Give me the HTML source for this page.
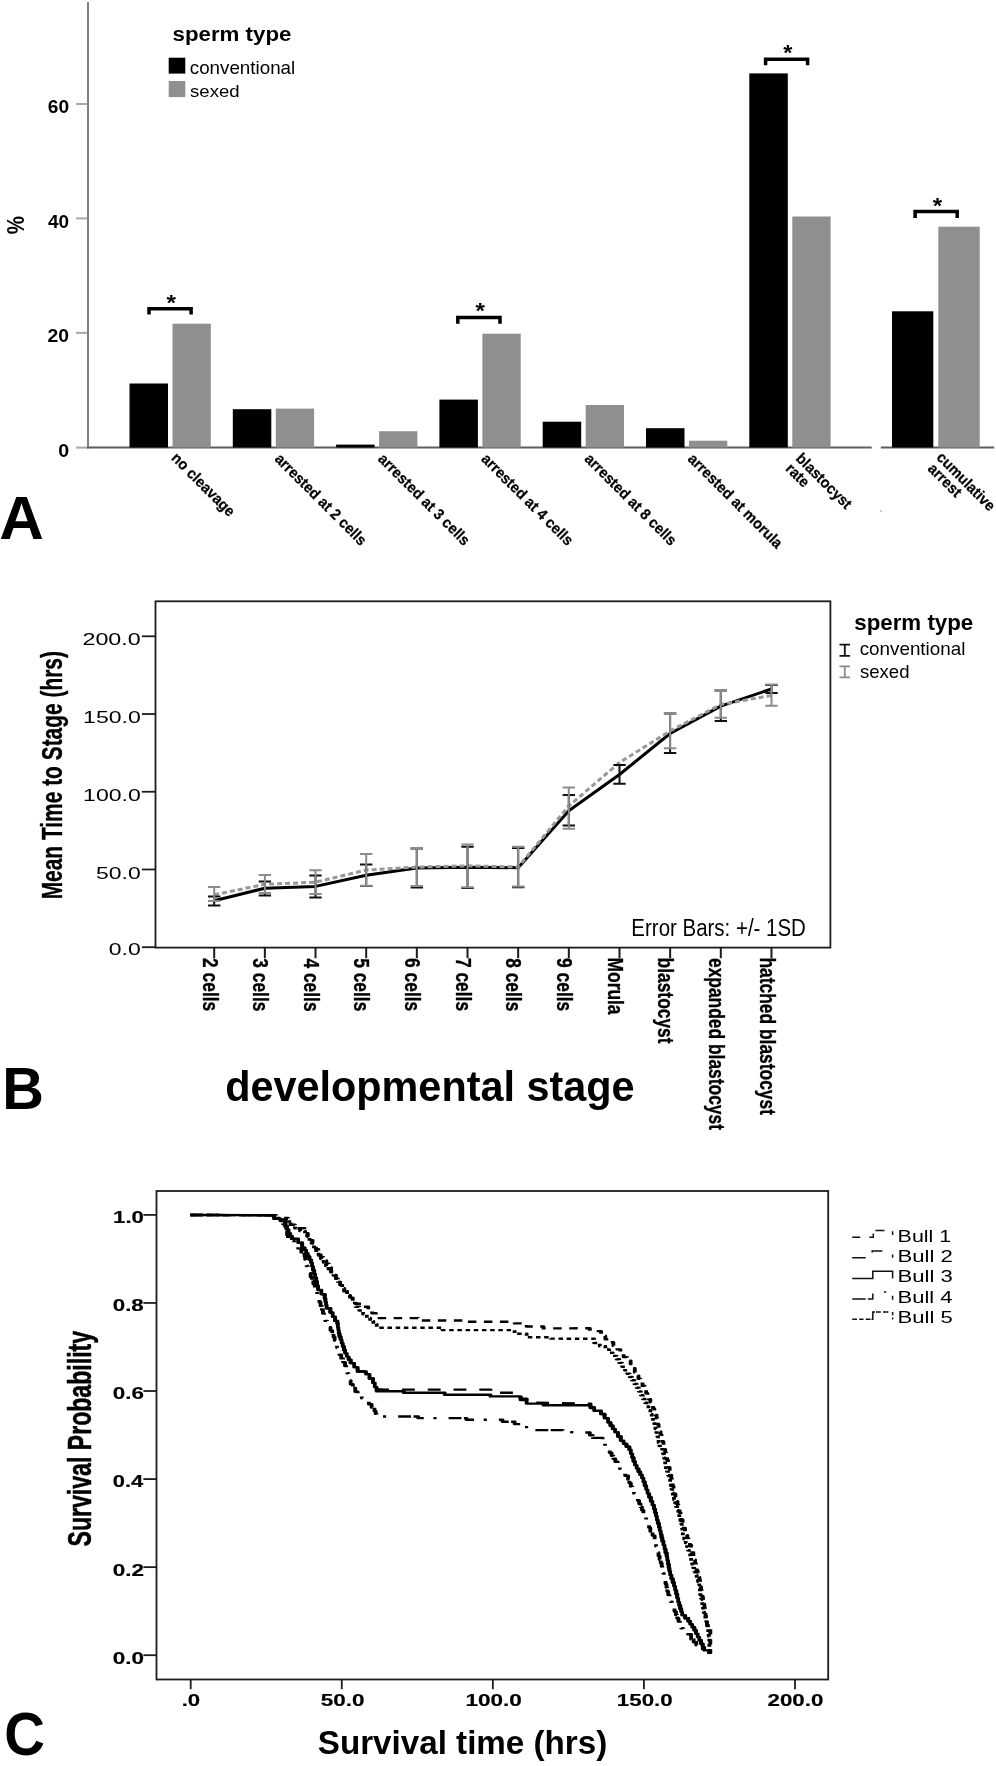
<!DOCTYPE html>
<html><head><meta charset="utf-8"><title>Figure</title>
<style>
html,body{margin:0;padding:0;background:#fff;}
body{width:996px;height:1766px;overflow:hidden;}
svg{display:block;filter:grayscale(1);}
text{font-family:"Liberation Sans", sans-serif;font-size:100px;}
</style></head>
<body>
<svg width="996" height="1766" viewBox="0 0 996 1766">
<rect x="0" y="0" width="996" height="1766" fill="#fff"/>
<line x1="88.00" y1="2.00" x2="88.00" y2="448.50" stroke="#808080" stroke-width="2.00" />
<line x1="76.00" y1="104.00" x2="87.00" y2="104.00" stroke="#a8a8a8" stroke-width="2.00" />
<line x1="76.00" y1="218.40" x2="87.00" y2="218.40" stroke="#a8a8a8" stroke-width="2.00" />
<line x1="76.00" y1="332.90" x2="87.00" y2="332.90" stroke="#a8a8a8" stroke-width="2.00" />
<line x1="76.00" y1="447.60" x2="87.00" y2="447.60" stroke="#a8a8a8" stroke-width="2.00" />
<line x1="87.00" y1="447.50" x2="871.70" y2="447.50" stroke="#5e5e5e" stroke-width="2.00" />
<line x1="880.80" y1="447.50" x2="994.20" y2="447.50" stroke="#5e5e5e" stroke-width="2.00" />
<text transform="matrix(0.19130,0.00000,0.00000,0.18873,47.83043,113.41127)" font-weight="bold" fill="#000">60</text>
<text transform="matrix(0.18957,0.00000,0.00000,0.18873,48.01564,227.61127)" font-weight="bold" fill="#000">40</text>
<text transform="matrix(0.19324,0.00000,0.00000,0.18873,47.62367,342.01127)" font-weight="bold" fill="#000">20</text>
<text transform="matrix(0.19579,0.00000,0.00000,0.19014,58.21684,456.60986)" font-weight="bold" fill="#000">0</text>
<text transform="matrix(0.00000,-0.20476,0.24823,0.00000,24.25177,234.21190)" font-weight="bold" fill="#000">%</text>
<text transform="matrix(0.22298,0.00000,0.00000,0.20925,172.51956,40.90578)" font-weight="bold" fill="#000">sperm type</text>
<rect x="168.70" y="57.70" width="16.60" height="15.90" fill="#000"/>
<text transform="matrix(0.18783,0.00000,0.00000,0.18095,189.75477,73.81905)" font-weight="normal" fill="#000">conventional</text>
<rect x="168.70" y="81.00" width="16.60" height="16.10" fill="#8f8f8f"/>
<text transform="matrix(0.18560,0.00000,0.00000,0.17279,190.04319,97.32721)" font-weight="normal" fill="#000">sexed</text>
<rect x="129.50" y="383.50" width="38.50" height="64.00" fill="#000"/>
<rect x="172.50" y="323.70" width="38.30" height="123.80" fill="#8f8f8f"/>
<rect x="232.80" y="409.20" width="38.50" height="38.30" fill="#000"/>
<rect x="275.80" y="408.60" width="38.30" height="38.90" fill="#8f8f8f"/>
<rect x="336.10" y="444.60" width="38.50" height="2.90" fill="#000"/>
<rect x="379.10" y="431.20" width="38.30" height="16.30" fill="#8f8f8f"/>
<rect x="439.40" y="399.60" width="38.50" height="47.90" fill="#000"/>
<rect x="482.40" y="333.70" width="38.30" height="113.80" fill="#8f8f8f"/>
<rect x="542.70" y="421.70" width="38.50" height="25.80" fill="#000"/>
<rect x="585.70" y="405.00" width="38.30" height="42.50" fill="#8f8f8f"/>
<rect x="646.00" y="428.20" width="38.50" height="19.30" fill="#000"/>
<rect x="689.00" y="440.70" width="38.30" height="6.80" fill="#8f8f8f"/>
<rect x="749.30" y="73.40" width="38.50" height="374.10" fill="#000"/>
<rect x="792.30" y="216.50" width="38.30" height="231.00" fill="#8f8f8f"/>
<rect x="892.00" y="311.30" width="41.30" height="136.20" fill="#000"/>
<rect x="938.30" y="226.70" width="41.40" height="220.80" fill="#8f8f8f"/>
<path d="M149.0,314.6 V308.7 H191.1 V314.6" fill="none" stroke="#000" stroke-width="3.5" stroke-linejoin="miter"/>
<text transform="matrix(0.24474,0.00000,0.00000,0.22973,166.37763,309.85135)" font-weight="bold" fill="#000">*</text>
<path d="M457.8,323.8 V317.6 H500.0 V323.8" fill="none" stroke="#000" stroke-width="3.5" stroke-linejoin="miter"/>
<text transform="matrix(0.24211,0.00000,0.00000,0.22162,475.47895,318.39189)" font-weight="bold" fill="#000">*</text>
<path d="M765.6,65.2 V59.2 H807.6 V65.2" fill="none" stroke="#000" stroke-width="3.5" stroke-linejoin="miter"/>
<text transform="matrix(0.23421,0.00000,0.00000,0.22973,783.18289,60.25135)" font-weight="bold" fill="#000">*</text>
<path d="M915.1,217.9 V211.6 H957.2 V217.9" fill="none" stroke="#000" stroke-width="3.5" stroke-linejoin="miter"/>
<text transform="matrix(0.24211,0.00000,0.00000,0.22162,932.67895,212.69189)" font-weight="bold" fill="#000">*</text>
<text transform="matrix(0.10253,0.10253,-0.10748,0.10748,170.40000,458.80000)" font-weight="bold" fill="#000" stroke="#000" stroke-width="1.60" stroke-linejoin="round">no cleavage</text>
<text transform="matrix(0.10253,0.10253,-0.10748,0.10748,273.90000,459.80000)" font-weight="bold" fill="#000" stroke="#000" stroke-width="1.60" stroke-linejoin="round">arrested at 2 cells</text>
<text transform="matrix(0.10253,0.10253,-0.10748,0.10748,377.20000,459.80000)" font-weight="bold" fill="#000" stroke="#000" stroke-width="1.60" stroke-linejoin="round">arrested at 3 cells</text>
<text transform="matrix(0.10253,0.10253,-0.10748,0.10748,480.50000,459.80000)" font-weight="bold" fill="#000" stroke="#000" stroke-width="1.60" stroke-linejoin="round">arrested at 4 cells</text>
<text transform="matrix(0.10253,0.10253,-0.10748,0.10748,583.80000,459.80000)" font-weight="bold" fill="#000" stroke="#000" stroke-width="1.60" stroke-linejoin="round">arrested at 8 cells</text>
<text transform="matrix(0.10253,0.10253,-0.10748,0.10748,687.10000,459.80000)" font-weight="bold" fill="#000" stroke="#000" stroke-width="1.60" stroke-linejoin="round">arrested at morula</text>
<text transform="matrix(0.10253,0.10253,-0.10748,0.10748,795.10000,459.30000)" font-weight="bold" fill="#000" stroke="#000" stroke-width="1.60" stroke-linejoin="round">blastocyst</text>
<text transform="matrix(0.10253,0.10253,-0.10748,0.10748,784.70000,469.40000)" font-weight="bold" fill="#000" stroke="#000" stroke-width="1.60" stroke-linejoin="round">rate</text>
<text transform="matrix(0.10253,0.10253,-0.10748,0.10748,935.70000,458.30000)" font-weight="bold" fill="#000" stroke="#000" stroke-width="1.60" stroke-linejoin="round">cumulative</text>
<text transform="matrix(0.10253,0.10253,-0.10748,0.10748,927.10000,469.60000)" font-weight="bold" fill="#000" stroke="#000" stroke-width="1.60" stroke-linejoin="round">arrest</text>
<text transform="matrix(0.61791,0.00000,0.00000,0.60580,-0.74478,538.80000)" font-weight="bold" fill="#000">A</text>
<rect x="880.00" y="510.00" width="2.00" height="2.00" fill="#c8c8c8"/>
<rect x="155.5" y="601.3" width="674.9" height="346.3" fill="none" stroke="#1c1c1c" stroke-width="1.8"/>
<line x1="141.90" y1="947.20" x2="155.50" y2="947.20" stroke="#1c1c1c" stroke-width="1.80" />
<line x1="141.90" y1="869.48" x2="155.50" y2="869.48" stroke="#1c1c1c" stroke-width="1.80" />
<line x1="141.90" y1="791.75" x2="155.50" y2="791.75" stroke="#1c1c1c" stroke-width="1.80" />
<line x1="141.90" y1="714.03" x2="155.50" y2="714.03" stroke="#1c1c1c" stroke-width="1.80" />
<line x1="141.90" y1="636.30" x2="155.50" y2="636.30" stroke="#1c1c1c" stroke-width="1.80" />
<text transform="matrix(0.23320,0.00000,0.00000,0.16338,82.43402,645.03662)" font-weight="normal" fill="#000">200.0</text>
<text transform="matrix(0.23061,0.00000,0.00000,0.16338,83.07044,723.13662)" font-weight="normal" fill="#000">150.0</text>
<text transform="matrix(0.23061,0.00000,0.00000,0.16620,83.07044,801.13380)" font-weight="normal" fill="#000">100.0</text>
<text transform="matrix(0.22949,0.00000,0.00000,0.16056,96.08204,878.63944)" font-weight="normal" fill="#000">50.0</text>
<text transform="matrix(0.22977,0.00000,0.00000,0.15775,108.78092,955.44225)" font-weight="normal" fill="#000">0.0</text>
<text transform="matrix(0.00000,-0.20918,0.28984,0.00000,62.41337,899.35969)" font-weight="bold" fill="#000" stroke="#000" stroke-width="1.20" stroke-linejoin="round">Mean Time to Stage (hrs)</text>
<line x1="214.20" y1="947.40" x2="214.20" y2="958.20" stroke="#1c1c1c" stroke-width="2.00" />
<line x1="264.86" y1="947.40" x2="264.86" y2="958.20" stroke="#1c1c1c" stroke-width="2.00" />
<line x1="315.52" y1="947.40" x2="315.52" y2="958.20" stroke="#1c1c1c" stroke-width="2.00" />
<line x1="366.18" y1="947.40" x2="366.18" y2="958.20" stroke="#1c1c1c" stroke-width="2.00" />
<line x1="416.84" y1="947.40" x2="416.84" y2="958.20" stroke="#1c1c1c" stroke-width="2.00" />
<line x1="467.50" y1="947.40" x2="467.50" y2="958.20" stroke="#1c1c1c" stroke-width="2.00" />
<line x1="518.16" y1="947.40" x2="518.16" y2="958.20" stroke="#1c1c1c" stroke-width="2.00" />
<line x1="568.82" y1="947.40" x2="568.82" y2="958.20" stroke="#1c1c1c" stroke-width="2.00" />
<line x1="619.48" y1="947.40" x2="619.48" y2="958.20" stroke="#1c1c1c" stroke-width="2.00" />
<line x1="670.14" y1="947.40" x2="670.14" y2="958.20" stroke="#1c1c1c" stroke-width="2.00" />
<line x1="720.80" y1="947.40" x2="720.80" y2="958.20" stroke="#1c1c1c" stroke-width="2.00" />
<line x1="771.46" y1="947.40" x2="771.46" y2="958.20" stroke="#1c1c1c" stroke-width="2.00" />
<text transform="matrix(0.00000,0.17386,-0.22069,0.00000,202.50000,958.09148)" font-weight="bold" fill="#000" stroke="#000" stroke-width="1.50" stroke-linejoin="round">2 cells</text>
<text transform="matrix(0.00000,0.17386,-0.22069,0.00000,253.16000,958.26534)" font-weight="bold" fill="#000" stroke="#000" stroke-width="1.50" stroke-linejoin="round">3 cells</text>
<text transform="matrix(0.00000,0.17386,-0.22069,0.00000,303.82000,958.43921)" font-weight="bold" fill="#000" stroke="#000" stroke-width="1.50" stroke-linejoin="round">4 cells</text>
<text transform="matrix(0.00000,0.17386,-0.22069,0.00000,354.48000,958.17841)" font-weight="bold" fill="#000" stroke="#000" stroke-width="1.50" stroke-linejoin="round">5 cells</text>
<text transform="matrix(0.00000,0.17386,-0.22069,0.00000,405.14000,958.09148)" font-weight="bold" fill="#000" stroke="#000" stroke-width="1.50" stroke-linejoin="round">6 cells</text>
<text transform="matrix(0.00000,0.17386,-0.22069,0.00000,455.80000,957.91762)" font-weight="bold" fill="#000" stroke="#000" stroke-width="1.50" stroke-linejoin="round">7 cells</text>
<text transform="matrix(0.00000,0.17386,-0.22069,0.00000,506.46000,958.17841)" font-weight="bold" fill="#000" stroke="#000" stroke-width="1.50" stroke-linejoin="round">8 cells</text>
<text transform="matrix(0.00000,0.17386,-0.22069,0.00000,557.12000,958.09148)" font-weight="bold" fill="#000" stroke="#000" stroke-width="1.50" stroke-linejoin="round">9 cells</text>
<text transform="matrix(0.00000,0.17386,-0.22069,0.00000,607.78000,957.56989)" font-weight="bold" fill="#000" stroke="#000" stroke-width="1.50" stroke-linejoin="round">Morula</text>
<text transform="matrix(0.00000,0.17386,-0.22069,0.00000,658.44000,957.56989)" font-weight="bold" fill="#000" stroke="#000" stroke-width="1.50" stroke-linejoin="round">blastocyst</text>
<text transform="matrix(0.00000,0.17386,-0.22069,0.00000,709.10000,958.00455)" font-weight="bold" fill="#000" stroke="#000" stroke-width="1.50" stroke-linejoin="round">expanded blastocyst</text>
<text transform="matrix(0.00000,0.17386,-0.22069,0.00000,759.76000,957.48296)" font-weight="bold" fill="#000" stroke="#000" stroke-width="1.50" stroke-linejoin="round">hatched blastocyst</text>
<text transform="matrix(0.20464,0.00000,0.00000,0.23946,631.36288,936.36054)" font-weight="normal" fill="#000">Error Bars: +/- 1SD</text>
<text transform="matrix(0.41406,0.00000,0.00000,0.42460,225.14376,1100.68342)" font-weight="bold" fill="#000">developmental stage</text>
<text transform="matrix(0.57705,0.00000,0.00000,0.60145,2.24918,1109.40000)" font-weight="bold" fill="#000">B</text>
<text transform="matrix(0.22317,0.00000,0.00000,0.21272,854.21890,629.73295)" font-weight="bold" fill="#000">sperm type</text>
<text transform="matrix(0.18837,0.00000,0.00000,0.18503,859.65232,654.71497)" font-weight="normal" fill="#000">conventional</text>
<text transform="matrix(0.18599,0.00000,0.00000,0.19048,859.94202,678.00952)" font-weight="normal" fill="#000">sexed</text>
<path d="M839.5,644.6 H850.0 M844.8,643.7 V656.7 M839.5,655.8 H850.0" stroke="#111" stroke-width="1.8" fill="none"/>
<path d="M839.5,666.4 H850.0 M844.8,665.5 V678.3 M839.5,677.4 H850.0" stroke="#8c8c8c" stroke-width="1.8" fill="none"/>
<path d="M214.2,900.7 L264.9,888.2 L315.5,886.4 L366.2,875.3 L416.8,868.1 L467.5,867.3 L518.2,867.7 L568.8,810.7 L619.5,774.5 L670.1,733.5 L720.8,706.1 L771.5,689.0" fill="none" stroke="#000" stroke-width="3.00" stroke-linejoin="round" />
<path d="M214.2,894.8 L264.9,884.3 L315.5,882.2 L366.2,870.0 L416.8,867.1 L467.5,865.8 L518.2,867.0 L568.8,806.0 L619.5,762.5 L670.1,731.0 L720.8,704.5 L771.5,695.4" fill="none" stroke="#999999" stroke-width="3.00" stroke-dasharray="5 3" stroke-linejoin="round" />
<path d="M208.0,896.5 H220.4 M214.2,896.5 V905.6 M208.0,905.6 H220.4" stroke="#111" stroke-width="2" fill="none"/>
<path d="M258.7,881.6 H271.1 M264.9,881.6 V895.5 M258.7,895.5 H271.1" stroke="#111" stroke-width="2" fill="none"/>
<path d="M309.3,875.4 H321.7 M315.5,875.4 V897.4 M309.3,897.4 H321.7" stroke="#111" stroke-width="2" fill="none"/>
<path d="M360.0,864.4 H372.4 M366.2,864.4 V886.0 M360.0,886.0 H372.4" stroke="#111" stroke-width="2" fill="none"/>
<path d="M410.6,848.5 H423.0 M416.8,848.5 V887.5 M410.6,887.5 H423.0" stroke="#111" stroke-width="2" fill="none"/>
<path d="M461.3,846.7 H473.7 M467.5,846.7 V888.0 M461.3,888.0 H473.7" stroke="#111" stroke-width="2" fill="none"/>
<path d="M512.0,848.0 H524.4 M518.2,848.0 V887.2 M512.0,887.2 H524.4" stroke="#111" stroke-width="2" fill="none"/>
<path d="M562.6,795.1 H575.0 M568.8,795.1 V825.6 M562.6,825.6 H575.0" stroke="#111" stroke-width="2" fill="none"/>
<path d="M613.3,764.9 H625.7 M619.5,764.9 V783.7 M613.3,783.7 H625.7" stroke="#111" stroke-width="2" fill="none"/>
<path d="M663.9,713.4 H676.3 M670.1,713.4 V753.0 M663.9,753.0 H676.3" stroke="#111" stroke-width="2" fill="none"/>
<path d="M714.6,690.6 H727.0 M720.8,690.6 V721.1 M714.6,721.1 H727.0" stroke="#111" stroke-width="2" fill="none"/>
<path d="M765.3,685.0 H777.7 M771.5,685.0 V693.0 M765.3,693.0 H777.7" stroke="#111" stroke-width="2" fill="none"/>
<path d="M208.0,887.1 H220.4 M214.2,887.1 V901.0 M208.0,901.0 H220.4" stroke="#8c8c8c" stroke-width="2" fill="none"/>
<path d="M258.7,875.1 H271.1 M264.9,875.1 V893.1 M258.7,893.1 H271.1" stroke="#8c8c8c" stroke-width="2" fill="none"/>
<path d="M309.3,870.2 H321.7 M315.5,870.2 V894.1 M309.3,894.1 H321.7" stroke="#8c8c8c" stroke-width="2" fill="none"/>
<path d="M360.0,854.0 H372.4 M366.2,854.0 V885.8 M360.0,885.8 H372.4" stroke="#8c8c8c" stroke-width="2" fill="none"/>
<path d="M410.6,848.0 H423.0 M416.8,848.0 V886.0 M410.6,886.0 H423.0" stroke="#8c8c8c" stroke-width="2" fill="none"/>
<path d="M461.3,844.4 H473.7 M467.5,844.4 V887.2 M461.3,887.2 H473.7" stroke="#8c8c8c" stroke-width="2" fill="none"/>
<path d="M512.0,846.7 H524.4 M518.2,846.7 V886.5 M512.0,886.5 H524.4" stroke="#8c8c8c" stroke-width="2" fill="none"/>
<path d="M562.6,787.6 H575.0 M568.8,787.6 V828.8 M562.6,828.8 H575.0" stroke="#8c8c8c" stroke-width="2" fill="none"/>
<path d="M663.9,713.4 H676.3 M670.1,713.4 V748.2 M663.9,748.2 H676.3" stroke="#8c8c8c" stroke-width="2" fill="none"/>
<path d="M714.6,690.6 H727.0 M720.8,690.6 V717.7 M714.6,717.7 H727.0" stroke="#8c8c8c" stroke-width="2" fill="none"/>
<path d="M765.3,684.5 H777.7 M771.5,684.5 V705.7 M765.3,705.7 H777.7" stroke="#8c8c8c" stroke-width="2" fill="none"/>
<rect x="156.5" y="1191" width="671.7" height="488.5" fill="none" stroke="#1c1c1c" stroke-width="1.8"/>
<line x1="143.40" y1="1655.20" x2="156.50" y2="1655.20" stroke="#1c1c1c" stroke-width="1.80" />
<line x1="143.40" y1="1567.14" x2="156.50" y2="1567.14" stroke="#1c1c1c" stroke-width="1.80" />
<line x1="143.40" y1="1479.08" x2="156.50" y2="1479.08" stroke="#1c1c1c" stroke-width="1.80" />
<line x1="143.40" y1="1391.02" x2="156.50" y2="1391.02" stroke="#1c1c1c" stroke-width="1.80" />
<line x1="143.40" y1="1302.96" x2="156.50" y2="1302.96" stroke="#1c1c1c" stroke-width="1.80" />
<line x1="143.40" y1="1214.90" x2="156.50" y2="1214.90" stroke="#1c1c1c" stroke-width="1.80" />
<line x1="190.70" y1="1679.50" x2="190.70" y2="1689.20" stroke="#1c1c1c" stroke-width="1.80" />
<line x1="341.77" y1="1679.50" x2="341.77" y2="1689.20" stroke="#1c1c1c" stroke-width="1.80" />
<line x1="492.85" y1="1679.50" x2="492.85" y2="1689.20" stroke="#1c1c1c" stroke-width="1.80" />
<line x1="643.92" y1="1679.50" x2="643.92" y2="1689.20" stroke="#1c1c1c" stroke-width="1.80" />
<line x1="795.00" y1="1679.50" x2="795.00" y2="1689.20" stroke="#1c1c1c" stroke-width="1.80" />
<text transform="matrix(0.22257,0.00000,0.00000,0.16761,113.05331,1223.28239)" font-weight="bold" fill="#000" stroke="#000" stroke-width="1.00" stroke-linejoin="round">1.0</text>
<text transform="matrix(0.22348,0.00000,0.00000,0.16761,112.70606,1311.34239)" font-weight="bold" fill="#000" stroke="#000" stroke-width="1.00" stroke-linejoin="round">0.8</text>
<text transform="matrix(0.22433,0.00000,0.00000,0.16761,112.70266,1399.40239)" font-weight="bold" fill="#000" stroke="#000" stroke-width="1.00" stroke-linejoin="round">0.6</text>
<text transform="matrix(0.21933,0.00000,0.00000,0.16761,112.72268,1487.46239)" font-weight="bold" fill="#000" stroke="#000" stroke-width="1.00" stroke-linejoin="round">0.4</text>
<text transform="matrix(0.22519,0.00000,0.00000,0.16761,112.69924,1575.52239)" font-weight="bold" fill="#000" stroke="#000" stroke-width="1.00" stroke-linejoin="round">0.2</text>
<text transform="matrix(0.22519,0.00000,0.00000,0.16761,112.69924,1663.58239)" font-weight="bold" fill="#000" stroke="#000" stroke-width="1.00" stroke-linejoin="round">0.0</text>
<text transform="matrix(0.22207,0.00000,0.00000,0.17183,181.64552,1706.12817)" font-weight="bold" fill="#000" stroke="#000" stroke-width="1.00" stroke-linejoin="round">.0</text>
<text transform="matrix(0.22507,0.00000,0.00000,0.17183,320.72480,1706.12817)" font-weight="bold" fill="#000" stroke="#000" stroke-width="1.00" stroke-linejoin="round">50.0</text>
<text transform="matrix(0.22589,0.00000,0.00000,0.17183,465.43173,1706.12817)" font-weight="bold" fill="#000" stroke="#000" stroke-width="1.00" stroke-linejoin="round">100.0</text>
<text transform="matrix(0.22338,0.00000,0.00000,0.17183,616.84802,1706.12817)" font-weight="bold" fill="#000" stroke="#000" stroke-width="1.00" stroke-linejoin="round">150.0</text>
<text transform="matrix(0.22351,0.00000,0.00000,0.17183,767.51773,1706.12817)" font-weight="bold" fill="#000" stroke="#000" stroke-width="1.00" stroke-linejoin="round">200.0</text>
<text transform="matrix(0.33187,0.00000,0.00000,0.32620,317.80440,1754.24973)" font-weight="bold" fill="#000">Survival time (hrs)</text>
<text transform="matrix(0.00000,-0.23097,0.33690,0.00000,91.12513,1546.49290)" font-weight="bold" fill="#000" stroke="#000" stroke-width="1.50" stroke-linejoin="round">Survival Probability</text>
<text transform="matrix(0.56336,0.00000,0.00000,0.61831,4.24656,1755.18169)" font-weight="bold" fill="#000">C</text>
<text transform="matrix(0.21477,0.00000,0.00000,0.15646,897.58186,1241.64354)" font-weight="normal" fill="#000">Bull 1</text>
<text transform="matrix(0.22152,0.00000,0.00000,0.15918,897.52785,1262.24082)" font-weight="normal" fill="#000">Bull 2</text>
<text transform="matrix(0.22105,0.00000,0.00000,0.15918,897.53158,1282.34082)" font-weight="normal" fill="#000">Bull 3</text>
<text transform="matrix(0.21967,0.00000,0.00000,0.15646,897.54268,1302.74354)" font-weight="normal" fill="#000">Bull 4</text>
<text transform="matrix(0.22059,0.00000,0.00000,0.16463,897.53529,1323.33537)" font-weight="normal" fill="#000">Bull 5</text>
<path d="M852.2,1237.2 H860.2 M869.3,1237.2 H873.3 V1233.5 M875.4,1230.6 H884.5 M892.6,1231.2 V1235.1" stroke="#111" stroke-width="1.5" fill="none"/>
<path d="M852.2,1257.8 H865.7 M872.2,1252.6 V1251.0 H882.4 M892.6,1254.6 V1257.8" stroke="#111" stroke-width="1.5" fill="none"/>
<path d="M852.2,1278.4 H872.8 V1271.3 H892.6 V1278.4" stroke="#111" stroke-width="1.5" fill="none"/>
<path d="M852.2,1299.0 H865.7 M867.8,1299.0 H872.8 V1293.6 M884.0,1292.0 H886.2 M892.6,1295.8 V1299.7" stroke="#111" stroke-width="1.5" fill="none"/>
<path d="M852.2,1319.2 H857.0 M859.2,1319.2 H863.5 M865.7,1319.2 H870.5 M871.5,1319.2 H872.8 V1312.1 H875.0 M876.0,1312.1 H880.8 M883.0,1312.1 H888.4 M892.6,1312.1 V1315.3 M892.6,1317.5 V1319.6" stroke="#111" stroke-width="1.5" fill="none"/>
<g transform="translate(190.00,0) scale(1.600,1) translate(-190.00,0)">
<path d="M190.2,1215.0 L239.1,1215.2 L242.6,1215.2 L242.6,1218.7 L246.6,1218.7 L246.6,1221.1 L249.6,1221.1 L249.6,1225.9 L250.6,1225.9 L250.6,1229.5 L251.6,1229.5 L251.6,1233.1 L252.6,1233.1 L252.6,1235.9 L253.6,1235.9 L253.6,1238.7 L257.6,1238.7 L257.6,1242.8 L260.1,1242.8 L260.1,1247.8 L261.6,1247.8 L261.6,1250.0 L262.6,1250.0 L262.6,1253.2 L263.6,1253.2 L263.6,1256.4 L264.6,1256.4 L264.6,1259.6 L265.6,1259.6 L265.6,1262.8 L266.3,1262.8 L266.3,1266.5 L266.9,1266.5 L266.9,1270.3 L267.6,1270.3 L267.6,1274.0 L268.2,1274.0 L268.2,1277.8 L268.9,1277.8 L268.9,1281.5 L269.4,1281.5 L269.4,1285.8 L270.0,1285.8 L270.0,1290.0 L272.1,1290.0 L272.1,1294.2 L274.2,1294.2 L274.2,1298.4 L274.6,1298.4 L274.6,1301.7 L275.0,1301.7 L275.0,1305.0 L275.4,1305.0 L275.4,1308.3 L277.7,1308.3 L277.7,1312.5 L279.2,1312.5 L279.2,1316.7 L280.7,1316.7 L280.7,1320.9 L282.1,1320.9 L282.1,1323.7 L282.4,1323.7 L282.4,1326.9 L282.7,1326.9 L282.7,1330.1 L283.0,1330.1 L283.0,1333.2 L283.4,1333.2 L283.4,1336.4 L284.1,1336.4 L284.1,1339.8 L284.8,1339.8 L284.8,1343.2 L285.5,1343.2 L285.5,1346.5 L286.2,1346.5 L286.2,1349.9 L286.9,1349.9 L286.9,1353.3 L288.0,1353.3 L288.0,1356.6 L289.2,1356.6 L289.2,1359.8 L290.4,1359.8 L290.4,1363.1 L292.6,1363.1 L292.6,1367.3 L294.8,1367.3 L294.8,1371.5 L300.0,1371.5 L300.0,1374.3 L302.2,1374.3 L302.2,1378.5 L304.4,1378.5 L304.4,1382.8 L305.5,1382.8 L305.5,1387.0 L306.6,1387.0 L306.6,1391.2 L323.6,1391.2 L323.6,1392.8 L349.2,1392.8 L349.2,1394.7 L377.8,1394.7 L377.8,1396.4 L392.9,1396.4 L396.6,1396.4 L396.6,1400.0 L400.4,1400.0 L400.4,1403.6 L410.9,1403.6 L410.9,1405.3 L438.1,1405.3 L440.3,1405.3 L440.3,1408.0 L442.6,1408.0 L442.6,1410.8 L446.9,1410.8 L446.9,1414.0 L449.1,1414.0 L449.1,1418.2 L451.3,1418.2 L451.3,1422.5 L452.8,1422.5 L452.8,1425.8 L454.2,1425.8 L454.2,1429.0 L455.7,1429.0 L455.7,1432.3 L457.5,1432.3 L457.5,1436.5 L459.2,1436.5 L459.2,1440.7 L461.0,1440.7 L461.0,1443.7 L462.8,1443.7 L462.8,1446.8 L464.6,1446.8 L464.6,1449.8 L465.5,1449.8 L465.5,1453.7 L466.4,1453.7 L466.4,1457.5 L467.2,1457.5 L467.2,1461.4 L468.1,1461.4 L468.1,1465.3 L469.2,1465.3 L469.2,1468.5 L470.3,1468.5 L470.3,1471.7 L471.4,1471.7 L471.4,1474.8 L472.5,1474.8 L472.5,1478.0 L473.4,1478.0 L473.4,1481.8 L474.2,1481.8 L474.2,1485.7 L475.1,1485.7 L475.1,1489.6 L476.0,1489.6 L476.0,1493.4 L477.0,1493.4 L477.0,1497.3 L478.0,1497.3 L478.0,1501.2 L479.0,1501.2 L479.0,1505.0 L480.0,1505.0 L480.0,1508.9 L480.6,1508.9 L480.6,1512.6 L481.2,1512.6 L481.2,1516.2 L481.8,1516.2 L481.8,1519.9 L482.4,1519.9 L482.4,1523.5 L483.1,1523.5 L483.1,1527.2 L483.6,1527.2 L483.6,1530.7 L484.2,1530.7 L484.2,1534.2 L484.7,1534.2 L484.7,1537.7 L485.2,1537.7 L485.2,1541.2 L485.9,1541.2 L485.9,1545.1 L486.6,1545.1 L486.6,1549.0 L487.2,1549.0 L487.2,1552.8 L487.9,1552.8 L487.9,1556.7 L488.3,1556.7 L488.3,1560.4 L488.8,1560.4 L488.8,1564.0 L489.2,1564.0 L489.2,1567.7 L489.6,1567.7 L489.6,1571.3 L490.1,1571.3 L490.1,1575.0 L490.9,1575.0 L490.9,1578.8 L491.7,1578.8 L491.7,1582.5 L492.5,1582.5 L492.5,1586.3 L493.2,1586.3 L493.2,1590.1 L493.9,1590.1 L493.9,1594.1 L494.5,1594.1 L494.5,1598.2 L495.1,1598.2 L495.1,1602.2 L495.8,1602.2 L495.8,1605.5 L496.4,1605.5 L496.4,1608.7 L497.0,1608.7 L497.0,1612.0 L497.6,1612.0 L497.6,1615.2 L499.5,1615.2 L499.5,1618.2 L501.4,1618.2 L501.4,1621.2 L502.6,1621.2 L502.6,1624.2 L503.9,1624.2 L503.9,1627.3 L505.2,1627.3 L505.2,1630.3 L506.2,1630.3 L506.2,1633.6 L507.3,1633.6 L507.3,1637.0 L508.3,1637.0 L508.3,1640.3 L509.4,1640.3 L509.4,1643.7 L510.4,1643.7 L510.4,1647.0 L511.4,1647.0 L511.4,1650.4 L514.6,1650.4 L514.6,1653.9" fill="none" stroke="#000" stroke-width="2.40" stroke-linejoin="round" />
<path d="M190.2,1215.0 L239.1,1215.2 L242.6,1215.2 L242.6,1218.7 L246.6,1218.7 L246.6,1221.1 L249.6,1221.1 L249.6,1225.9 L250.6,1225.9 L250.6,1229.5 L251.6,1229.5 L251.6,1233.1 L252.6,1233.1 L252.6,1235.9 L253.6,1235.9 L253.6,1238.7 L257.6,1238.7 L257.6,1242.8 L260.1,1242.8 L260.1,1247.8 L261.6,1247.8 L261.6,1250.0 L262.6,1250.0 L262.6,1253.2 L263.6,1253.2 L263.6,1256.4 L264.6,1256.4 L264.6,1259.6 L265.6,1259.6 L265.6,1262.8 L266.3,1262.8 L266.3,1266.5 L266.9,1266.5 L266.9,1270.3 L267.6,1270.3 L267.6,1274.0 L268.2,1274.0 L268.2,1277.8 L268.9,1277.8 L268.9,1281.5 L269.4,1281.5 L269.4,1285.8 L270.0,1285.8 L270.0,1290.0 L272.1,1290.0 L272.1,1294.2 L274.2,1294.2 L274.2,1298.4 L274.6,1298.4 L274.6,1301.7 L275.0,1301.7 L275.0,1305.0 L275.4,1305.0 L275.4,1308.3 L277.7,1308.3 L277.7,1312.5 L279.2,1312.5 L279.2,1316.7 L280.7,1316.7 L280.7,1320.9 L282.1,1320.9 L282.1,1323.7 L282.4,1323.7 L282.4,1326.9 L282.7,1326.9 L282.7,1330.1 L283.0,1330.1 L283.0,1333.2 L283.4,1333.2 L283.4,1336.4 L284.1,1336.4 L284.1,1339.8 L284.8,1339.8 L284.8,1343.2 L285.5,1343.2 L285.5,1346.5 L286.2,1346.5 L286.2,1349.9 L286.9,1349.9 L286.9,1353.3 L288.0,1353.3 L288.0,1356.6 L289.2,1356.6 L289.2,1359.8 L290.4,1359.8 L290.4,1363.1 L292.6,1363.1 L292.6,1367.3 L294.8,1367.3 L294.8,1371.5 L300.0,1371.5 L300.0,1374.3 L302.2,1374.3 L302.2,1378.5 L304.4,1378.5 L304.4,1382.8 L305.5,1382.8 L305.5,1386.0 L306.6,1386.0 L306.6,1389.2 L311.6,1389.6 L377.8,1389.6 L377.8,1392.8 L392.9,1392.8 L392.9,1394.7 L396.6,1394.7 L396.6,1398.6 L400.4,1398.6 L400.4,1402.4 L438.1,1403.6 L440.3,1403.6 L440.3,1407.2 L442.6,1407.2 L442.6,1410.8 L446.9,1410.8 L446.9,1414.0 L449.1,1414.0 L449.1,1418.2 L451.3,1418.2 L451.3,1422.5 L452.8,1422.5 L452.8,1425.8 L454.2,1425.8 L454.2,1429.0 L455.7,1429.0 L455.7,1432.3 L457.5,1432.3 L457.5,1436.5 L459.2,1436.5 L459.2,1440.7 L461.0,1440.7 L461.0,1443.7 L462.8,1443.7 L462.8,1446.8 L464.6,1446.8 L464.6,1449.8 L465.5,1449.8 L465.5,1453.7 L466.4,1453.7 L466.4,1457.5 L467.2,1457.5 L467.2,1461.4 L468.1,1461.4 L468.1,1465.3 L469.2,1465.3 L469.2,1468.5 L470.3,1468.5 L470.3,1471.7 L471.4,1471.7 L471.4,1474.8 L472.5,1474.8 L472.5,1478.0 L473.4,1478.0 L473.4,1481.8 L474.2,1481.8 L474.2,1485.7 L475.1,1485.7 L475.1,1489.6 L476.0,1489.6 L476.0,1493.4 L477.0,1493.4 L477.0,1497.3 L478.0,1497.3 L478.0,1501.2 L479.0,1501.2 L479.0,1505.0 L480.0,1505.0 L480.0,1508.9 L480.6,1508.9 L480.6,1512.6 L481.2,1512.6 L481.2,1516.2 L481.8,1516.2 L481.8,1519.9 L482.4,1519.9 L482.4,1523.5 L483.1,1523.5 L483.1,1527.2 L483.6,1527.2 L483.6,1530.7 L484.2,1530.7 L484.2,1534.2 L484.7,1534.2 L484.7,1537.7 L485.2,1537.7 L485.2,1541.2 L485.9,1541.2 L485.9,1545.1 L486.6,1545.1 L486.6,1549.0 L487.2,1549.0 L487.2,1552.8 L487.9,1552.8 L487.9,1556.7 L488.3,1556.7 L488.3,1560.4 L488.8,1560.4 L488.8,1564.0 L489.2,1564.0 L489.2,1567.7 L489.6,1567.7 L489.6,1571.3 L490.1,1571.3 L490.1,1575.0 L490.9,1575.0 L490.9,1578.8 L491.7,1578.8 L491.7,1582.5 L492.5,1582.5 L492.5,1586.3 L493.2,1586.3 L493.2,1590.1 L493.9,1590.1 L493.9,1594.1 L494.5,1594.1 L494.5,1598.2 L495.1,1598.2 L495.1,1602.2 L495.8,1602.2 L495.8,1605.5 L496.4,1605.5 L496.4,1608.7 L497.0,1608.7 L497.0,1612.0 L497.6,1612.0 L497.6,1615.2 L499.5,1615.2 L499.5,1618.2 L501.4,1618.2 L501.4,1621.2 L502.6,1621.2 L502.6,1624.2 L503.9,1624.2 L503.9,1627.3 L505.2,1627.3 L505.2,1630.3 L506.2,1630.3 L506.2,1633.6 L507.3,1633.6 L507.3,1637.0 L508.3,1637.0 L508.3,1640.3 L509.4,1640.3 L509.4,1643.7 L510.4,1643.7 L510.4,1647.0 L511.4,1647.0 L511.4,1650.4 L514.6,1650.4 L514.6,1653.9" fill="none" stroke="#000" stroke-width="2.40" stroke-dasharray="8.06 8.06" stroke-linejoin="round" />
<path d="M190.2,1215.0 L239.1,1215.2 L242.6,1215.2 L242.6,1218.7 L246.6,1218.7 L246.6,1221.1 L248.1,1221.1 L248.1,1224.0 L249.6,1224.0 L249.6,1227.0 L250.1,1227.0 L250.1,1231.0 L250.7,1231.0 L250.7,1235.0 L251.2,1235.0 L251.2,1239.0 L252.6,1239.0 L252.6,1241.1 L255.1,1241.1 L255.1,1244.8 L257.6,1244.8 L257.6,1248.4 L259.6,1248.4 L259.6,1252.4 L261.6,1252.4 L261.6,1256.4 L262.0,1256.4 L262.0,1259.6 L262.4,1259.6 L262.4,1262.8 L262.8,1262.8 L262.8,1266.0 L263.6,1266.0 L263.6,1269.6 L264.5,1269.6 L264.5,1273.3 L265.4,1273.3 L265.4,1276.9 L266.2,1276.9 L266.2,1280.5 L267.1,1280.5 L267.1,1284.1 L268.0,1284.1 L268.0,1287.8 L268.9,1287.8 L268.9,1291.4 L269.5,1291.4 L269.5,1294.9 L270.2,1294.9 L270.2,1298.4 L270.9,1298.4 L270.9,1302.2 L271.6,1302.2 L271.6,1305.9 L272.4,1305.9 L272.4,1309.7 L273.1,1309.7 L273.1,1313.4 L273.8,1313.4 L273.8,1317.2 L274.6,1317.2 L274.6,1320.9 L275.7,1320.9 L275.7,1324.1 L276.8,1324.1 L276.8,1327.2 L277.8,1327.2 L277.8,1330.4 L278.9,1330.4 L278.9,1333.6 L279.7,1333.6 L279.7,1337.1 L280.4,1337.1 L280.4,1340.6 L281.2,1340.6 L281.2,1344.2 L281.9,1344.2 L281.9,1347.7 L282.6,1347.7 L282.6,1351.2 L283.4,1351.2 L283.4,1354.7 L284.5,1354.7 L284.5,1358.4 L285.7,1358.4 L285.7,1362.2 L286.9,1362.2 L286.9,1365.9 L287.6,1365.9 L287.6,1369.6 L288.3,1369.6 L288.3,1373.2 L289.0,1373.2 L289.0,1376.9 L289.7,1376.9 L289.7,1380.5 L290.4,1380.5 L290.4,1384.2 L291.8,1384.2 L291.8,1387.9 L293.3,1387.9 L293.3,1391.7 L294.8,1391.7 L294.8,1395.4 L297.4,1395.4 L297.4,1398.2 L300.0,1398.2 L300.0,1401.0 L301.8,1401.0 L301.8,1404.3 L303.5,1404.3 L303.5,1407.6 L305.3,1407.6 L305.3,1410.9 L306.0,1410.9 L306.0,1413.7 L306.6,1413.7 L306.6,1416.5 L332.6,1416.5 L332.6,1418.1 L362.8,1418.1 L362.8,1419.8 L385.3,1419.8 L385.3,1421.7 L392.9,1421.7 L392.9,1424.1 L397.4,1424.1 L397.4,1427.1 L401.9,1427.1 L401.9,1430.1 L423.0,1430.1 L423.0,1432.0 L438.1,1432.5 L439.9,1432.5 L439.9,1435.2 L441.7,1435.2 L441.7,1437.9 L447.9,1437.9 L447.9,1442.8 L449.4,1442.8 L449.4,1446.1 L450.9,1446.1 L450.9,1449.4 L452.3,1449.4 L452.3,1452.7 L453.5,1452.7 L453.5,1455.7 L454.6,1455.7 L454.6,1458.8 L455.8,1458.8 L455.8,1461.8 L457.3,1461.8 L457.3,1465.3 L458.7,1465.3 L458.7,1468.8 L460.2,1468.8 L460.2,1472.3 L462.0,1472.3 L462.0,1475.8 L463.8,1475.8 L463.8,1479.4 L464.6,1479.4 L464.6,1482.9 L465.5,1482.9 L465.5,1486.4 L466.4,1486.4 L466.4,1489.9 L467.5,1489.9 L467.5,1493.4 L468.7,1493.4 L468.7,1496.9 L469.9,1496.9 L469.9,1500.4 L470.7,1500.4 L470.7,1503.7 L471.6,1503.7 L471.6,1507.0 L472.5,1507.0 L472.5,1510.3 L473.4,1510.3 L473.4,1513.6 L474.2,1513.6 L474.2,1516.8 L475.1,1516.8 L475.1,1520.1 L476.0,1520.1 L476.0,1523.9 L476.9,1523.9 L476.9,1527.6 L477.7,1527.6 L477.7,1531.4 L479.1,1531.4 L479.1,1535.6 L480.4,1535.6 L480.4,1539.8 L480.9,1539.8 L480.9,1543.0 L481.3,1543.0 L481.3,1546.2 L481.8,1546.2 L481.8,1549.3 L482.2,1549.3 L482.2,1552.5 L482.8,1552.5 L482.8,1556.0 L483.5,1556.0 L483.5,1559.5 L484.2,1559.5 L484.2,1563.0 L484.8,1563.0 L484.8,1566.5 L485.2,1566.5 L485.2,1569.8 L485.7,1569.8 L485.7,1573.1 L486.1,1573.1 L486.1,1576.4 L486.7,1576.4 L486.7,1580.1 L487.2,1580.1 L487.2,1583.9 L487.8,1583.9 L487.8,1587.6 L488.3,1587.6 L488.3,1591.4 L488.9,1591.4 L488.9,1595.1 L489.7,1595.1 L489.7,1598.4 L490.4,1598.4 L490.4,1601.7 L491.2,1601.7 L491.2,1604.9 L492.0,1604.9 L492.0,1608.2 L492.8,1608.2 L492.8,1611.5 L493.7,1611.5 L493.7,1614.9 L494.5,1614.9 L494.5,1618.2 L495.3,1618.2 L495.3,1621.6 L496.2,1621.6 L496.2,1624.9 L497.0,1624.9 L497.0,1628.3 L498.2,1628.3 L498.2,1631.3 L499.5,1631.3 L499.5,1634.3 L503.2,1634.3 L503.2,1639.3 L504.8,1639.3 L504.8,1642.3 L506.4,1642.3 L506.4,1645.3 L508.9,1645.3 L508.9,1648.8 L511.4,1648.8 L511.4,1652.4 L514.6,1652.4 L514.6,1654.0" fill="none" stroke="#000" stroke-width="2.40" stroke-dasharray="8.06 1.50 8.06 6.00 2.00 7.50" stroke-linejoin="round" />
<path d="M190.2,1215.0 L239.1,1215.2 L242.5,1215.2 L242.5,1217.5 L246.2,1217.5 L246.2,1219.5 L250.1,1219.5 L250.1,1221.1 L252.8,1221.1 L252.8,1224.7 L255.6,1224.7 L255.6,1228.3 L261.6,1228.3 L261.6,1233.1 L263.6,1233.1 L263.6,1236.7 L265.6,1236.7 L265.6,1240.3 L266.6,1240.3 L266.6,1243.3 L267.7,1243.3 L267.7,1246.2 L268.7,1246.2 L268.7,1249.2 L270.2,1249.2 L270.2,1253.2 L271.7,1253.2 L271.7,1257.2 L273.4,1257.2 L273.4,1260.4 L275.2,1260.4 L275.2,1263.6 L276.7,1263.6 L276.7,1267.4 L278.2,1267.4 L278.2,1271.2 L279.7,1271.2 L279.7,1274.9 L281.2,1274.9 L281.2,1278.7 L282.5,1278.7 L282.5,1281.9 L283.8,1281.9 L283.8,1285.1 L285.1,1285.1 L285.1,1288.2 L286.4,1288.2 L286.4,1291.4 L288.2,1291.4 L288.2,1294.5 L290.0,1294.5 L290.0,1297.6 L291.7,1297.6 L291.7,1300.7 L293.5,1300.7 L293.5,1303.8 L297.4,1303.8 L297.4,1306.7 L301.4,1306.7 L301.4,1309.6 L303.8,1309.6 L303.8,1313.2 L306.2,1313.2 L306.2,1316.7 L307.0,1316.7 L307.0,1318.1 L332.6,1318.1 L332.6,1320.5 L362.8,1320.5 L362.8,1321.7 L392.9,1321.7 L392.9,1323.4 L400.4,1323.4 L400.4,1326.5 L410.9,1326.5 L410.9,1328.4 L433.8,1328.3 L439.9,1328.3 L439.9,1331.1 L446.9,1331.1 L446.9,1336.0 L449.6,1336.0 L449.6,1339.2 L452.2,1339.2 L452.2,1342.3 L454.6,1342.3 L454.6,1345.8 L457.1,1345.8 L457.1,1349.4 L459.0,1349.4 L459.0,1353.2 L461.0,1353.2 L461.0,1357.1 L463.2,1357.1 L463.2,1360.6 L465.4,1360.6 L465.4,1364.1 L466.7,1364.1 L466.7,1368.3 L468.0,1368.3 L468.0,1372.6 L469.2,1372.6 L469.2,1375.6 L470.3,1375.6 L470.3,1378.7 L471.5,1378.7 L471.5,1381.7 L472.8,1381.7 L472.8,1385.9 L474.2,1385.9 L474.2,1390.1 L475.1,1390.1 L475.1,1393.2 L475.9,1393.2 L475.9,1396.2 L476.8,1396.2 L476.8,1399.3 L477.7,1399.3 L477.7,1402.3 L478.6,1402.3 L478.6,1405.4 L479.4,1405.4 L479.4,1408.4 L480.2,1408.4 L480.2,1411.7 L480.9,1411.7 L480.9,1414.9 L481.6,1414.9 L481.6,1418.2 L482.1,1418.2 L482.1,1421.5 L482.5,1421.5 L482.5,1424.8 L482.9,1424.8 L482.9,1428.1 L483.5,1428.1 L483.5,1431.4 L484.1,1431.4 L484.1,1434.6 L484.7,1434.6 L484.7,1437.9 L485.3,1437.9 L485.3,1441.7 L485.9,1441.7 L485.9,1445.4 L486.4,1445.4 L486.4,1449.2 L487.0,1449.2 L487.0,1452.8 L487.6,1452.8 L487.6,1456.4 L488.1,1456.4 L488.1,1460.0 L488.7,1460.0 L488.7,1463.8 L489.2,1463.8 L489.2,1467.5 L489.8,1467.5 L489.8,1471.2 L490.3,1471.2 L490.3,1475.0 L490.8,1475.0 L490.8,1478.8 L491.2,1478.8 L491.2,1482.5 L491.7,1482.5 L491.7,1486.2 L492.2,1486.2 L492.2,1490.0 L492.8,1490.0 L492.8,1493.8 L493.4,1493.8 L493.4,1497.5 L494.1,1497.5 L494.1,1501.2 L494.7,1501.2 L494.7,1505.0 L495.3,1505.0 L495.3,1508.8 L495.9,1508.8 L495.9,1512.5 L496.6,1512.5 L496.6,1516.2 L497.2,1516.2 L497.2,1520.0 L497.9,1520.0 L497.9,1524.0 L498.6,1524.0 L498.6,1528.0 L499.4,1528.0 L499.4,1532.0 L500.1,1532.0 L500.1,1535.1 L500.8,1535.1 L500.8,1538.1 L501.5,1538.1 L501.5,1541.2 L502.4,1541.2 L502.4,1545.0 L503.2,1545.0 L503.2,1548.7 L504.1,1548.7 L504.1,1552.5 L504.6,1552.5 L504.6,1556.1 L505.2,1556.1 L505.2,1559.8 L505.7,1559.8 L505.7,1563.4 L506.2,1563.4 L506.2,1567.1 L506.7,1567.1 L506.7,1570.7 L507.3,1570.7 L507.3,1573.8 L507.9,1573.8 L507.9,1576.9 L508.4,1576.9 L508.4,1580.0 L508.8,1580.0 L508.8,1583.3 L509.1,1583.3 L509.1,1586.7 L509.4,1586.7 L509.4,1590.0 L509.8,1590.0 L509.8,1593.3 L510.2,1593.3 L510.2,1596.7 L510.6,1596.7 L510.6,1600.0 L511.0,1600.0 L511.0,1604.0 L511.5,1604.0 L511.5,1608.0 L511.9,1608.0 L511.9,1612.0 L512.2,1612.0 L512.2,1615.5 L512.5,1615.5 L512.5,1618.9 L512.8,1618.9 L512.8,1622.3 L513.1,1622.3 L513.1,1625.8 L515.6,1625.8 L515.2,1625.8 L515.2,1630.0 L515.2,1630.0 L515.2,1633.3 L515.2,1633.3 L515.2,1636.7 L515.2,1636.7 L515.2,1640.0 L515.2,1640.0 L515.2,1643.4 L515.2,1643.4 L515.2,1646.7 L515.2,1646.7 L515.2,1650.1 L515.2,1650.1 L515.2,1653.4" fill="none" stroke="#000" stroke-width="2.40" stroke-dasharray="5.31 4.69" stroke-linejoin="round" />
<path d="M190.2,1215.0 L239.1,1215.2 L243.8,1215.2 L243.8,1218.0 L251.2,1218.0 L251.2,1221.5 L253.4,1221.5 L253.4,1224.9 L255.6,1224.9 L255.6,1228.3 L258.8,1228.3 L258.8,1231.0 L261.9,1231.0 L261.9,1233.7 L263.3,1233.7 L263.3,1237.4 L264.7,1237.4 L264.7,1241.0 L266.1,1241.0 L266.1,1244.7 L267.5,1244.7 L267.5,1248.3 L268.9,1248.3 L268.9,1252.0 L270.4,1252.0 L270.4,1255.5 L271.9,1255.5 L271.9,1259.0 L273.5,1259.0 L273.5,1262.5 L275.0,1262.5 L275.0,1266.0 L276.6,1266.0 L276.6,1269.2 L278.1,1269.2 L278.1,1272.3 L279.7,1272.3 L279.7,1275.5 L281.2,1275.5 L281.2,1278.7 L282.5,1278.7 L282.5,1281.9 L283.8,1281.9 L283.8,1285.1 L285.1,1285.1 L285.1,1288.2 L286.4,1288.2 L286.4,1291.4 L288.2,1291.4 L288.2,1295.2 L290.0,1295.2 L290.0,1299.1 L291.7,1299.1 L291.7,1303.0 L293.5,1303.0 L293.5,1306.8 L295.8,1306.8 L295.8,1310.5 L298.2,1310.5 L298.2,1314.3 L300.5,1314.3 L300.5,1318.0 L302.6,1318.0 L302.6,1321.1 L304.6,1321.1 L304.6,1324.1 L306.7,1324.1 L306.7,1327.2 L307.0,1327.7 L347.7,1327.7 L347.7,1330.1 L392.9,1330.1 L392.9,1333.7 L400.4,1333.7 L400.4,1337.3 L415.4,1337.3 L415.4,1338.6 L433.8,1338.8 L442.6,1338.8 L442.6,1343.0 L446.1,1343.0 L446.1,1346.2 L449.6,1346.2 L449.6,1349.4 L451.9,1349.4 L451.9,1352.7 L454.2,1352.7 L454.2,1355.9 L456.6,1355.9 L456.6,1359.2 L458.3,1359.2 L458.3,1362.9 L460.1,1362.9 L460.1,1366.7 L461.9,1366.7 L461.9,1370.4 L463.3,1370.4 L463.3,1373.7 L464.8,1373.7 L464.8,1377.0 L466.2,1377.0 L466.2,1380.3 L467.7,1380.3 L467.7,1384.0 L469.2,1384.0 L469.2,1387.8 L470.6,1387.8 L470.6,1391.5 L471.8,1391.5 L471.8,1395.3 L473.0,1395.3 L473.0,1399.0 L474.2,1399.0 L474.2,1402.8 L475.4,1402.8 L475.4,1406.5 L476.5,1406.5 L476.5,1410.3 L477.7,1410.3 L477.7,1414.0 L478.6,1414.0 L478.6,1417.8 L479.4,1417.8 L479.4,1421.5 L480.3,1421.5 L480.3,1425.3 L480.9,1425.3 L480.9,1429.0 L481.5,1429.0 L481.5,1432.8 L482.1,1432.8 L482.1,1436.5 L482.5,1436.5 L482.5,1439.7 L482.9,1439.7 L482.9,1442.8 L483.4,1442.8 L483.4,1446.0 L483.8,1446.0 L483.8,1449.2 L485.7,1449.2 L485.7,1454.1 L486.1,1454.1 L486.1,1457.6 L486.6,1457.6 L486.6,1461.1 L487.0,1461.1 L487.0,1464.6 L487.4,1464.6 L487.4,1468.1 L488.1,1468.1 L488.1,1471.6 L488.8,1471.6 L488.8,1475.2 L489.4,1475.2 L489.4,1478.7 L490.1,1478.7 L490.1,1482.2 L490.5,1482.2 L490.5,1485.7 L490.9,1485.7 L490.9,1489.2 L491.4,1489.2 L491.4,1492.7 L491.8,1492.7 L491.8,1496.2 L492.5,1496.2 L492.5,1499.7 L493.2,1499.7 L493.2,1503.2 L493.8,1503.2 L493.8,1506.8 L494.5,1506.8 L494.5,1510.3 L495.2,1510.3 L495.2,1513.8 L495.8,1513.8 L495.8,1517.3 L496.5,1517.3 L496.5,1520.8 L497.1,1520.8 L497.1,1524.3 L497.4,1524.3 L497.4,1528.1 L497.7,1528.1 L497.7,1531.8 L498.0,1531.8 L498.0,1535.6 L498.9,1535.6 L498.9,1539.3 L499.8,1539.3 L499.8,1543.1 L500.6,1543.1 L500.6,1546.8 L501.3,1546.8 L501.3,1550.3 L501.9,1550.3 L501.9,1553.8 L502.6,1553.8 L502.6,1557.4 L503.2,1557.4 L503.2,1560.9 L503.9,1560.9 L503.9,1564.4 L504.6,1564.4 L504.6,1568.0 L505.2,1568.0 L505.2,1571.5 L505.9,1571.5 L505.9,1575.0 L506.7,1575.0 L506.7,1578.4 L507.5,1578.4 L507.5,1581.7 L508.3,1581.7 L508.3,1585.1 L508.5,1585.1 L508.5,1588.4 L508.7,1588.4 L508.7,1591.8 L508.9,1591.8 L508.9,1595.1 L509.4,1595.1 L509.4,1598.5 L509.8,1598.5 L509.8,1601.8 L510.2,1601.8 L510.2,1605.2 L510.6,1605.2 L510.6,1608.5 L511.0,1608.5 L511.0,1611.9 L511.4,1611.9 L511.4,1615.2 L512.1,1615.2 L512.1,1618.6 L512.7,1618.6 L512.7,1621.9 L513.3,1621.9 L513.3,1625.3 L513.6,1625.3 L513.6,1629.0 L513.9,1629.0 L513.9,1632.7 L514.2,1632.7 L514.2,1636.3 L514.6,1636.3 L514.6,1640.0 L514.6,1640.0 L514.6,1643.5 L514.6,1643.5 L514.6,1647.0 L514.6,1647.0 L514.6,1650.4 L514.6,1650.4 L514.6,1653.9" fill="none" stroke="#000" stroke-width="2.40" stroke-dasharray="2.81 2.31" stroke-linejoin="round" />
</g>
</svg>
</body></html>
